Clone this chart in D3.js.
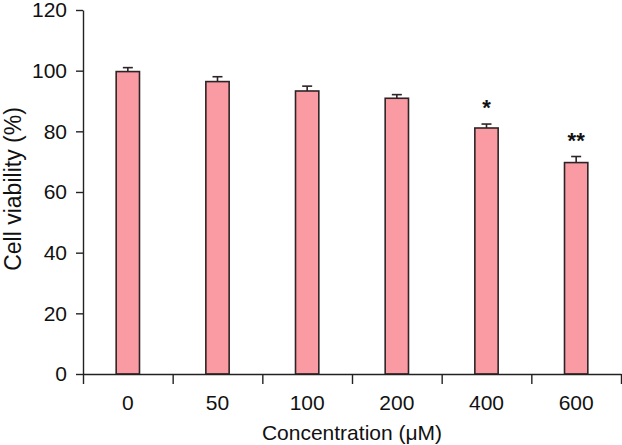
<!DOCTYPE html>
<html>
<head>
<meta charset="utf-8">
<script src="https://cdn.jsdelivr.net/npm/d3@7"></script>
<style>
	html, body { margin: 0; padding: 0; background: #fff; }
	svg { display: block; font-family: "Liberation Sans", Arial, sans-serif; }
</style>
</head>
<body>
<div id="chart"></div>
<script>
const categories = ["0", "50", "100", "200", "400", "600"]
const viability = [99.7, 96.4, 93.3, 90.9, 81.1, 69.7]
const errors = [1.3, 1.6, 1.6, 1.2, 1.3, 2.0]
const marks = ["", "", "", "", "*", "**"]
const yTicks = [0, 20, 40, 60, 80, 100, 120]

const data = categories.map((c, i) => ({ key: c, value: viability[i], err: errors[i], mark: marks[i] }))

const width = 622
const height = 445
const margin = { top: 10, right: 1, bottom: 71, left: 83 }

const svg = d3.select("#chart").append("svg")
	.attr("width", width)
	.attr("height", height)

const x = d3.scaleBand()
	.domain(categories)
	.range([margin.left, width - margin.right])
	.paddingInner(0.74)
	.paddingOuter(0.37)
const xEdge = d3.scaleLinear()
	.domain([0, categories.length])
	.range([margin.left, width - margin.right])
const y = d3.scaleLinear()
	.domain([0, 120])
	.range([height - margin.bottom, margin.top])

// bars
svg.append("g").selectAll("rect")
	.data(data)
	.enter().append("rect")
		.attr("x", d => x(d.key))
		.attr("y", d => y(d.value))
		.attr("width", x.bandwidth())
		.attr("height", d => y(0) - y(d.value))
		.attr("fill", "#fa9ba4")
		.attr("stroke", "#2e2426")
		.attr("stroke-width", 1.6)

// error bars (upper only)
const err = svg.append("g")
	.attr("stroke", "#2e2426")
	.attr("stroke-width", 1.6)
err.selectAll(".stem")
	.data(data)
	.enter().append("line")
		.attr("x1", d => x(d.key) + x.bandwidth() / 2)
		.attr("x2", d => x(d.key) + x.bandwidth() / 2)
		.attr("y1", d => y(d.value))
		.attr("y2", d => y(d.value + d.err))
err.selectAll(".cap")
	.data(data)
	.enter().append("line")
		.attr("x1", d => x(d.key) + x.bandwidth() / 2 - 5)
		.attr("x2", d => x(d.key) + x.bandwidth() / 2 + 5)
		.attr("y1", d => y(d.value + d.err))
		.attr("y2", d => y(d.value + d.err))

// significance marks
svg.append("g").selectAll("text")
	.data(data.filter(d => d.mark))
	.enter().append("text")
		.attr("x", d => x(d.key) + x.bandwidth() / 2)
		.attr("y", d => y(d.value + d.err) - 9)
		.attr("text-anchor", "middle")
		.attr("font-size", 22)
		.attr("font-weight", "bold")
		.attr("fill", "#111")
		.text(d => d.mark)

// y axis
const yAxis = svg.append("g")
	.attr("transform", `translate(${margin.left},0)`)
	.call(d3.axisLeft(y).tickValues(yTicks).tickSize(7).tickSizeOuter(0).tickPadding(9))
yAxis.selectAll("text").attr("font-size", 21).attr("fill", "#111")

// x axis: boundary ticks
svg.append("g")
	.attr("transform", `translate(0,${y(0)})`)
	.call(d3.axisBottom(xEdge).ticks(categories.length).tickSize(10).tickSizeOuter(0).tickFormat(""))
// x axis: category labels
const xLabels = svg.append("g")
	.attr("transform", `translate(0,${y(0)})`)
	.call(d3.axisBottom(x).tickSize(0).tickPadding(21))
xLabels.select(".domain").remove()
xLabels.selectAll("text").attr("font-size", 21).attr("fill", "#111")

svg.selectAll(".domain, .tick line")
	.attr("stroke", "#222")
	.attr("stroke-width", 1.4)

// axis titles
svg.append("text")
	.attr("x", (margin.left + width - margin.right) / 2)
	.attr("y", 440)
	.attr("text-anchor", "middle")
	.attr("font-size", 21)
	.attr("fill", "#111")
	.text("Concentration (μM)")

svg.append("text")
	.attr("transform", `translate(21,${(y(0) + y(120)) / 2 - 3}) rotate(-90)`)
	.attr("text-anchor", "middle")
	.attr("font-size", 23)
	.attr("fill", "#111")
	.text("Cell viability (%)")
</script>
</body>
</html>
